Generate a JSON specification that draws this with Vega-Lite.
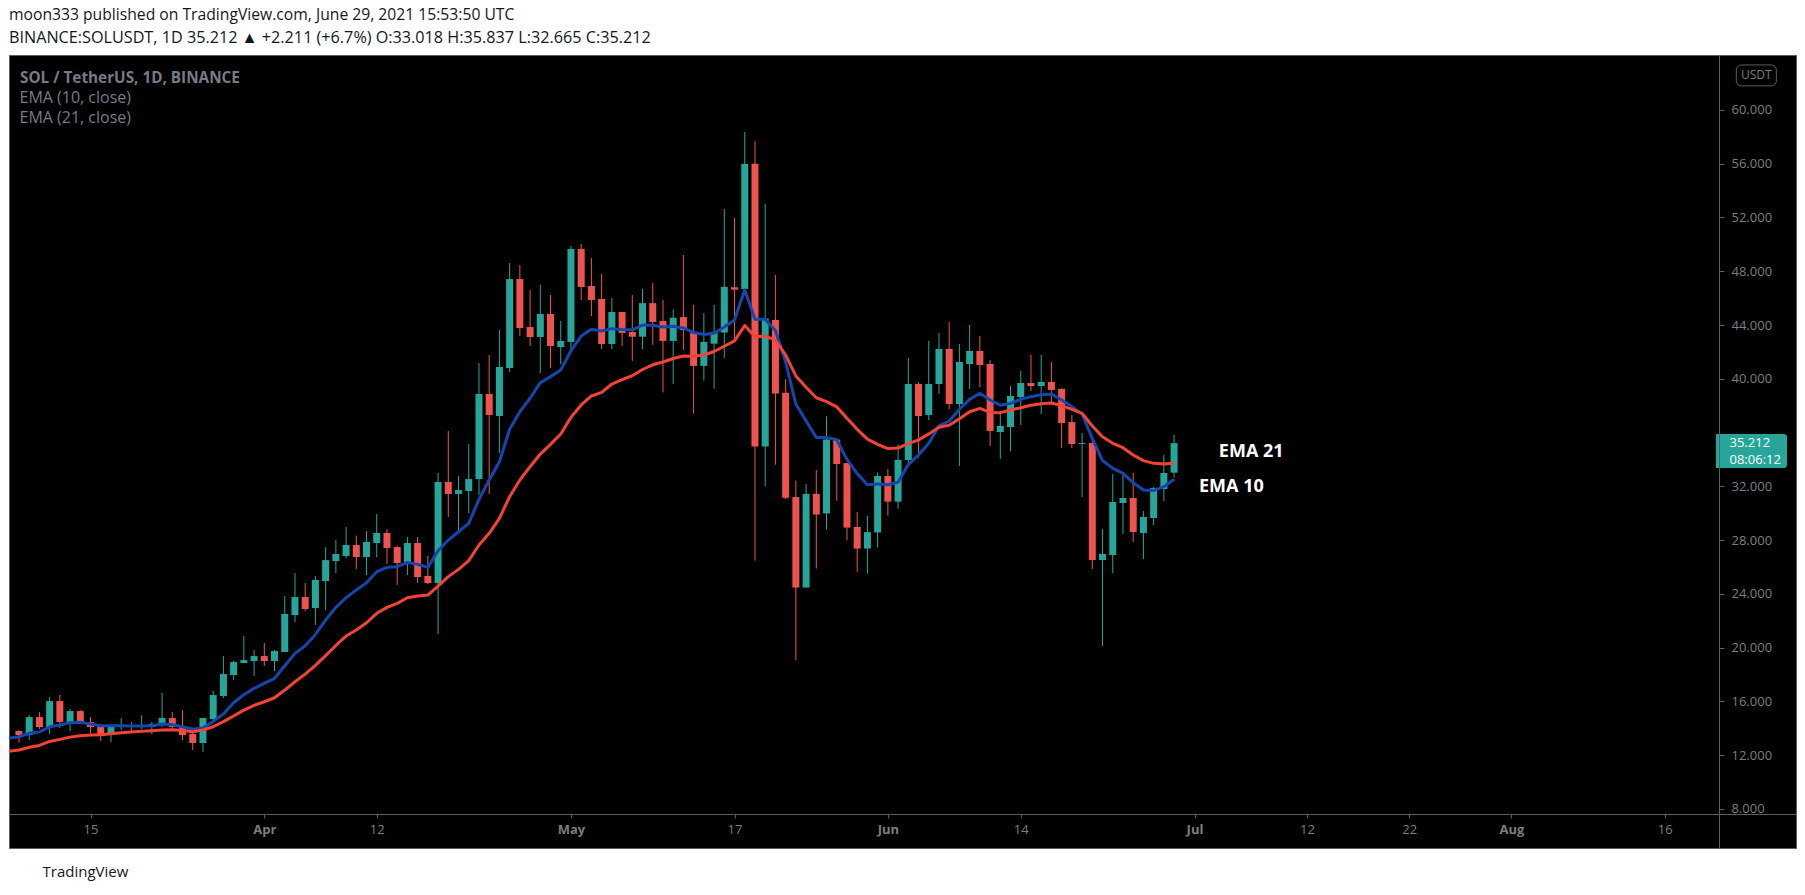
{
  "$schema": "https://vega.github.io/schema/vega-lite/v6.json",
  "width": 1787,
  "height": 793,
  "autosize": {"type": "none"},
  "padding": {"left": 9, "top": 55, "right": 9, "bottom": 47},
  "background": "#ffffff",
  "title": {
    "text": "moon333 published on TradingView.com, June 29, 2021 15:53:50 UTC",
    "subtitle": "BINANCE:SOLUSDT, 1D  35.212 ▲ +2.211 (+6.7%)  O:33.018  H:35.837  L:32.665  C:35.212",
    "anchor": "start",
    "frame": "group",
    "font": "Open Sans",
    "fontSize": 15.7,
    "fontWeight": "normal",
    "color": "#131722",
    "subtitleFont": "Open Sans",
    "subtitleFontSize": 16.2,
    "subtitleColor": "#131722",
    "subtitlePadding": 6,
    "offset": 8
  },
  "datasets": {
    "candles": [
      {"date": "2021-03-08", "open": 13.79, "high": 13.87, "low": 12.92, "close": 13.49},
      {"date": "2021-03-09", "open": 13.49, "high": 14.98, "low": 13.12, "close": 14.83},
      {"date": "2021-03-10", "open": 14.83, "high": 15.20, "low": 13.94, "close": 14.09},
      {"date": "2021-03-11", "open": 14.09, "high": 16.32, "low": 13.57, "close": 16.02},
      {"date": "2021-03-12", "open": 16.02, "high": 16.47, "low": 14.01, "close": 14.46},
      {"date": "2021-03-13", "open": 14.46, "high": 15.43, "low": 13.79, "close": 15.28},
      {"date": "2021-03-14", "open": 15.28, "high": 15.35, "low": 14.31, "close": 14.39},
      {"date": "2021-03-15", "open": 14.46, "high": 14.83, "low": 13.64, "close": 14.09},
      {"date": "2021-03-16", "open": 14.16, "high": 14.31, "low": 13.05, "close": 13.57},
      {"date": "2021-03-17", "open": 13.57, "high": 14.24, "low": 12.97, "close": 14.16},
      {"date": "2021-03-18", "open": 14.09, "high": 14.76, "low": 13.87, "close": 14.16},
      {"date": "2021-03-19", "open": 14.24, "high": 14.46, "low": 13.79, "close": 14.09},
      {"date": "2021-03-20", "open": 14.09, "high": 14.98, "low": 13.94, "close": 14.16},
      {"date": "2021-03-21", "open": 14.09, "high": 14.46, "low": 13.57, "close": 14.31},
      {"date": "2021-03-22", "open": 14.24, "high": 16.62, "low": 14.09, "close": 14.76},
      {"date": "2021-03-23", "open": 14.76, "high": 15.20, "low": 13.87, "close": 14.09},
      {"date": "2021-03-24", "open": 14.16, "high": 15.35, "low": 13.12, "close": 13.49},
      {"date": "2021-03-25", "open": 13.57, "high": 13.72, "low": 12.38, "close": 12.90},
      {"date": "2021-03-26", "open": 12.90, "high": 14.76, "low": 12.23, "close": 14.76},
      {"date": "2021-03-27", "open": 14.68, "high": 16.77, "low": 14.61, "close": 16.47},
      {"date": "2021-03-28", "open": 16.40, "high": 19.37, "low": 16.25, "close": 18.03},
      {"date": "2021-03-29", "open": 17.96, "high": 19.00, "low": 17.58, "close": 18.92},
      {"date": "2021-03-30", "open": 18.85, "high": 20.86, "low": 18.85, "close": 19.07},
      {"date": "2021-03-31", "open": 19.00, "high": 19.82, "low": 17.88, "close": 19.37},
      {"date": "2021-04-01", "open": 19.37, "high": 20.34, "low": 18.63, "close": 19.00},
      {"date": "2021-04-02", "open": 19.00, "high": 19.82, "low": 18.25, "close": 19.74},
      {"date": "2021-04-03", "open": 19.67, "high": 23.84, "low": 19.67, "close": 22.50},
      {"date": "2021-04-04", "open": 22.42, "high": 25.55, "low": 21.90, "close": 23.76},
      {"date": "2021-04-05", "open": 23.76, "high": 24.80, "low": 22.72, "close": 22.87},
      {"date": "2021-04-06", "open": 22.94, "high": 25.32, "low": 21.68, "close": 25.03},
      {"date": "2021-04-07", "open": 24.95, "high": 27.48, "low": 22.79, "close": 26.51},
      {"date": "2021-04-08", "open": 26.44, "high": 28.00, "low": 25.55, "close": 26.96},
      {"date": "2021-04-09", "open": 26.81, "high": 28.97, "low": 26.66, "close": 27.63},
      {"date": "2021-04-10", "open": 27.63, "high": 28.33, "low": 25.85, "close": 26.74},
      {"date": "2021-04-11", "open": 26.74, "high": 28.67, "low": 25.40, "close": 27.86},
      {"date": "2021-04-12", "open": 27.78, "high": 29.94, "low": 26.74, "close": 28.53},
      {"date": "2021-04-13", "open": 28.53, "high": 28.82, "low": 26.22, "close": 27.41},
      {"date": "2021-04-14", "open": 27.48, "high": 27.56, "low": 24.66, "close": 26.29},
      {"date": "2021-04-15", "open": 26.37, "high": 28.23, "low": 25.40, "close": 27.78},
      {"date": "2021-04-16", "open": 27.78, "high": 28.23, "low": 24.80, "close": 25.25},
      {"date": "2021-04-17", "open": 25.33, "high": 26.81, "low": 24.73, "close": 24.80},
      {"date": "2021-04-18", "open": 24.80, "high": 32.99, "low": 21.01, "close": 32.32},
      {"date": "2021-04-19", "open": 32.32, "high": 36.11, "low": 29.72, "close": 31.43},
      {"date": "2021-04-20", "open": 31.43, "high": 32.77, "low": 28.75, "close": 31.72},
      {"date": "2021-04-21", "open": 31.65, "high": 35.15, "low": 30.01, "close": 32.54},
      {"date": "2021-04-22", "open": 32.54, "high": 41.17, "low": 31.35, "close": 38.87},
      {"date": "2021-04-23", "open": 38.87, "high": 41.77, "low": 31.43, "close": 37.31},
      {"date": "2021-04-24", "open": 37.23, "high": 43.63, "low": 34.48, "close": 40.88},
      {"date": "2021-04-25", "open": 40.80, "high": 48.61, "low": 40.50, "close": 47.42},
      {"date": "2021-04-26", "open": 47.42, "high": 48.47, "low": 43.18, "close": 43.78},
      {"date": "2021-04-27", "open": 43.85, "high": 46.61, "low": 42.44, "close": 43.11},
      {"date": "2021-04-28", "open": 43.11, "high": 46.98, "low": 40.43, "close": 44.82},
      {"date": "2021-04-29", "open": 44.82, "high": 46.23, "low": 40.80, "close": 42.44},
      {"date": "2021-04-30", "open": 42.36, "high": 44.30, "low": 41.10, "close": 42.81},
      {"date": "2021-05-01", "open": 42.74, "high": 49.88, "low": 41.92, "close": 49.66},
      {"date": "2021-05-02", "open": 49.66, "high": 50.03, "low": 45.86, "close": 46.83},
      {"date": "2021-05-03", "open": 46.90, "high": 48.99, "low": 44.67, "close": 45.86},
      {"date": "2021-05-04", "open": 45.94, "high": 47.80, "low": 42.22, "close": 42.59},
      {"date": "2021-05-05", "open": 42.59, "high": 46.01, "low": 42.22, "close": 44.97},
      {"date": "2021-05-06", "open": 44.97, "high": 44.97, "low": 42.44, "close": 43.41},
      {"date": "2021-05-07", "open": 43.48, "high": 46.23, "low": 41.33, "close": 43.13},
      {"date": "2021-05-08", "open": 43.13, "high": 46.68, "low": 42.21, "close": 45.63},
      {"date": "2021-05-09", "open": 45.63, "high": 47.12, "low": 42.53, "close": 44.23},
      {"date": "2021-05-10", "open": 44.30, "high": 45.87, "low": 38.98, "close": 42.82},
      {"date": "2021-05-11", "open": 42.82, "high": 45.16, "low": 39.61, "close": 44.54},
      {"date": "2021-05-12", "open": 44.59, "high": 49.21, "low": 42.14, "close": 43.63},
      {"date": "2021-05-13", "open": 43.44, "high": 45.50, "low": 37.41, "close": 40.96},
      {"date": "2021-05-14", "open": 40.96, "high": 44.90, "low": 39.87, "close": 42.74},
      {"date": "2021-05-15", "open": 42.61, "high": 45.50, "low": 39.27, "close": 43.49},
      {"date": "2021-05-16", "open": 43.44, "high": 52.63, "low": 41.56, "close": 46.84},
      {"date": "2021-05-17", "open": 46.81, "high": 51.98, "low": 43.03, "close": 46.63},
      {"date": "2021-05-18", "open": 46.68, "high": 58.37, "low": 46.68, "close": 55.99},
      {"date": "2021-05-19", "open": 55.99, "high": 57.69, "low": 26.48, "close": 34.96},
      {"date": "2021-05-20", "open": 34.96, "high": 53.02, "low": 31.99, "close": 44.49},
      {"date": "2021-05-21", "open": 44.38, "high": 47.72, "low": 33.60, "close": 38.90},
      {"date": "2021-05-22", "open": 38.96, "high": 39.97, "low": 31.05, "close": 31.15},
      {"date": "2021-05-23", "open": 31.20, "high": 32.43, "low": 19.07, "close": 24.47},
      {"date": "2021-05-24", "open": 24.47, "high": 32.17, "low": 24.47, "close": 31.44},
      {"date": "2021-05-25", "open": 31.44, "high": 33.21, "low": 25.88, "close": 29.90},
      {"date": "2021-05-26", "open": 29.98, "high": 37.21, "low": 28.78, "close": 35.48},
      {"date": "2021-05-27", "open": 35.48, "high": 35.56, "low": 30.92, "close": 33.66},
      {"date": "2021-05-28", "open": 33.73, "high": 33.73, "low": 27.97, "close": 28.93},
      {"date": "2021-05-29", "open": 28.98, "high": 30.08, "low": 25.64, "close": 27.37},
      {"date": "2021-05-30", "open": 27.37, "high": 29.79, "low": 25.51, "close": 28.59},
      {"date": "2021-05-31", "open": 28.57, "high": 33.03, "low": 27.44, "close": 32.77},
      {"date": "2021-06-01", "open": 32.77, "high": 33.29, "low": 29.82, "close": 30.86},
      {"date": "2021-06-02", "open": 30.86, "high": 35.12, "low": 30.34, "close": 33.97},
      {"date": "2021-06-03", "open": 33.96, "high": 41.56, "low": 33.71, "close": 39.61},
      {"date": "2021-06-04", "open": 39.61, "high": 39.76, "low": 34.13, "close": 37.23},
      {"date": "2021-06-05", "open": 37.31, "high": 42.81, "low": 36.93, "close": 39.61},
      {"date": "2021-06-06", "open": 39.61, "high": 43.41, "low": 38.87, "close": 42.22},
      {"date": "2021-06-07", "open": 42.22, "high": 44.23, "low": 37.75, "close": 38.12},
      {"date": "2021-06-08", "open": 38.12, "high": 42.59, "low": 33.51, "close": 41.25},
      {"date": "2021-06-09", "open": 41.10, "high": 44.00, "low": 39.24, "close": 42.07},
      {"date": "2021-06-10", "open": 42.07, "high": 43.18, "low": 39.39, "close": 41.03},
      {"date": "2021-06-11", "open": 41.10, "high": 41.40, "low": 35.00, "close": 36.12},
      {"date": "2021-06-12", "open": 36.04, "high": 37.60, "low": 34.03, "close": 36.49},
      {"date": "2021-06-13", "open": 36.41, "high": 39.47, "low": 34.62, "close": 38.72},
      {"date": "2021-06-14", "open": 38.65, "high": 40.58, "low": 36.56, "close": 39.69},
      {"date": "2021-06-15", "open": 39.69, "high": 41.77, "low": 39.09, "close": 39.46},
      {"date": "2021-06-16", "open": 39.46, "high": 41.77, "low": 37.38, "close": 39.76},
      {"date": "2021-06-17", "open": 39.76, "high": 41.25, "low": 38.27, "close": 39.17},
      {"date": "2021-06-18", "open": 39.24, "high": 39.30, "low": 34.85, "close": 36.71},
      {"date": "2021-06-19", "open": 36.78, "high": 37.31, "low": 34.85, "close": 35.15},
      {"date": "2021-06-20", "open": 35.15, "high": 35.97, "low": 31.20, "close": 35.22},
      {"date": "2021-06-21", "open": 35.22, "high": 35.52, "low": 25.85, "close": 26.52},
      {"date": "2021-06-22", "open": 26.52, "high": 28.82, "low": 20.12, "close": 26.96},
      {"date": "2021-06-23", "open": 26.89, "high": 32.92, "low": 25.55, "close": 30.83},
      {"date": "2021-06-24", "open": 30.76, "high": 33.06, "low": 28.45, "close": 31.13},
      {"date": "2021-06-25", "open": 31.13, "high": 32.99, "low": 27.86, "close": 28.60},
      {"date": "2021-06-26", "open": 28.53, "high": 30.16, "low": 26.59, "close": 29.72},
      {"date": "2021-06-27", "open": 29.64, "high": 31.95, "low": 29.12, "close": 31.87},
      {"date": "2021-06-28", "open": 31.80, "high": 34.33, "low": 30.91, "close": 32.99},
      {"date": "2021-06-29", "open": 33.018, "high": 35.837, "low": 32.665, "close": 35.212}
    ],
    "ema": [
      {"date": "2021-03-07", "ema10": 13.25, "ema21": 12.28},
      {"date": "2021-03-08", "ema10": 13.37, "ema21": 12.38},
      {"date": "2021-03-09", "ema10": 13.62, "ema21": 12.58},
      {"date": "2021-03-10", "ema10": 13.72, "ema21": 12.72},
      {"date": "2021-03-11", "ema10": 14.11, "ema21": 13.02},
      {"date": "2021-03-12", "ema10": 14.24, "ema21": 13.17},
      {"date": "2021-03-13", "ema10": 14.41, "ema21": 13.34},
      {"date": "2021-03-14", "ema10": 14.44, "ema21": 13.44},
      {"date": "2021-03-15", "ema10": 14.31, "ema21": 13.49},
      {"date": "2021-03-16", "ema10": 14.19, "ema21": 13.52},
      {"date": "2021-03-17", "ema10": 14.19, "ema21": 13.59},
      {"date": "2021-03-18", "ema10": 14.19, "ema21": 13.67},
      {"date": "2021-03-19", "ema10": 14.16, "ema21": 13.72},
      {"date": "2021-03-20", "ema10": 14.16, "ema21": 13.77},
      {"date": "2021-03-21", "ema10": 14.19, "ema21": 13.82},
      {"date": "2021-03-22", "ema10": 14.31, "ema21": 13.87},
      {"date": "2021-03-23", "ema10": 14.26, "ema21": 13.89},
      {"date": "2021-03-24", "ema10": 14.11, "ema21": 13.84},
      {"date": "2021-03-25", "ema10": 13.92, "ema21": 13.74},
      {"date": "2021-03-26", "ema10": 14.01, "ema21": 13.87},
      {"date": "2021-03-27", "ema10": 14.51, "ema21": 14.11},
      {"date": "2021-03-28", "ema10": 15.06, "ema21": 14.49},
      {"date": "2021-03-29", "ema10": 15.90, "ema21": 14.91},
      {"date": "2021-03-30", "ema10": 16.49, "ema21": 15.35},
      {"date": "2021-03-31", "ema10": 16.97, "ema21": 15.70},
      {"date": "2021-04-01", "ema10": 17.34, "ema21": 15.97},
      {"date": "2021-04-02", "ema10": 17.71, "ema21": 16.27},
      {"date": "2021-04-03", "ema10": 18.65, "ema21": 16.84},
      {"date": "2021-04-04", "ema10": 19.57, "ema21": 17.46},
      {"date": "2021-04-05", "ema10": 20.14, "ema21": 18.03},
      {"date": "2021-04-06", "ema10": 20.98, "ema21": 18.68},
      {"date": "2021-04-07", "ema10": 22.05, "ema21": 19.40},
      {"date": "2021-04-08", "ema10": 22.99, "ema21": 20.16},
      {"date": "2021-04-09", "ema10": 23.72, "ema21": 20.86},
      {"date": "2021-04-10", "ema10": 24.29, "ema21": 21.31},
      {"date": "2021-04-11", "ema10": 24.83, "ema21": 21.85},
      {"date": "2021-04-12", "ema10": 25.65, "ema21": 22.55},
      {"date": "2021-04-13", "ema10": 25.97, "ema21": 22.99},
      {"date": "2021-04-14", "ema10": 26.02, "ema21": 23.29},
      {"date": "2021-04-15", "ema10": 26.34, "ema21": 23.71},
      {"date": "2021-04-16", "ema10": 26.19, "ema21": 23.84},
      {"date": "2021-04-17", "ema10": 25.97, "ema21": 23.91},
      {"date": "2021-04-18", "ema10": 27.21, "ema21": 24.58},
      {"date": "2021-04-19", "ema10": 28.00, "ema21": 25.28},
      {"date": "2021-04-20", "ema10": 28.62, "ema21": 25.82},
      {"date": "2021-04-21", "ema10": 29.24, "ema21": 26.47},
      {"date": "2021-04-22", "ema10": 31.03, "ema21": 27.63},
      {"date": "2021-04-23", "ema10": 32.47, "ema21": 28.50},
      {"date": "2021-04-24", "ema10": 33.83, "ema21": 29.62},
      {"date": "2021-04-25", "ema10": 36.24, "ema21": 31.23},
      {"date": "2021-04-26", "ema10": 37.55, "ema21": 32.47},
      {"date": "2021-04-27", "ema10": 38.55, "ema21": 33.46},
      {"date": "2021-04-28", "ema10": 39.71, "ema21": 34.40},
      {"date": "2021-04-29", "ema10": 40.16, "ema21": 35.12},
      {"date": "2021-04-30", "ema10": 40.65, "ema21": 35.89},
      {"date": "2021-05-01", "ema10": 42.09, "ema21": 37.13},
      {"date": "2021-05-02", "ema10": 43.18, "ema21": 38.05},
      {"date": "2021-05-03", "ema10": 43.68, "ema21": 38.72},
      {"date": "2021-05-04", "ema10": 43.55, "ema21": 38.99},
      {"date": "2021-05-05", "ema10": 43.73, "ema21": 39.61},
      {"date": "2021-05-06", "ema10": 43.66, "ema21": 39.94},
      {"date": "2021-05-07", "ema10": 43.64, "ema21": 40.23},
      {"date": "2021-05-08", "ema10": 44.00, "ema21": 40.69},
      {"date": "2021-05-09", "ema10": 43.99, "ema21": 41.04},
      {"date": "2021-05-10", "ema10": 43.86, "ema21": 41.25},
      {"date": "2021-05-11", "ema10": 43.91, "ema21": 41.51},
      {"date": "2021-05-12", "ema10": 43.78, "ema21": 41.69},
      {"date": "2021-05-13", "ema10": 43.44, "ema21": 41.67},
      {"date": "2021-05-14", "ema10": 43.29, "ema21": 41.77},
      {"date": "2021-05-15", "ema10": 43.39, "ema21": 42.03},
      {"date": "2021-05-16", "ema10": 43.86, "ema21": 42.42},
      {"date": "2021-05-17", "ema10": 44.38, "ema21": 42.82},
      {"date": "2021-05-18", "ema10": 46.63, "ema21": 43.96},
      {"date": "2021-05-19", "ema10": 44.43, "ema21": 43.13},
      {"date": "2021-05-20", "ema10": 44.43, "ema21": 43.18},
      {"date": "2021-05-21", "ema10": 43.60, "ema21": 42.87},
      {"date": "2021-05-22", "ema10": 41.25, "ema21": 41.77},
      {"date": "2021-05-23", "ema10": 38.12, "ema21": 40.21},
      {"date": "2021-05-24", "ema10": 36.87, "ema21": 39.37},
      {"date": "2021-05-25", "ema10": 35.64, "ema21": 38.59},
      {"date": "2021-05-26", "ema10": 35.64, "ema21": 38.30},
      {"date": "2021-05-27", "ema10": 35.46, "ema21": 37.91},
      {"date": "2021-05-28", "ema10": 34.00, "ema21": 37.07},
      {"date": "2021-05-29", "ema10": 32.95, "ema21": 36.24},
      {"date": "2021-05-30", "ema10": 32.12, "ema21": 35.51},
      {"date": "2021-05-31", "ema10": 32.17, "ema21": 35.12},
      {"date": "2021-06-01", "ema10": 32.12, "ema21": 34.81},
      {"date": "2021-06-02", "ema10": 32.30, "ema21": 34.85},
      {"date": "2021-06-03", "ema10": 33.62, "ema21": 35.18},
      {"date": "2021-06-04", "ema10": 34.33, "ema21": 35.45},
      {"date": "2021-06-05", "ema10": 35.20, "ema21": 35.90},
      {"date": "2021-06-06", "ema10": 36.49, "ema21": 36.39},
      {"date": "2021-06-07", "ema10": 36.86, "ema21": 36.54},
      {"date": "2021-06-08", "ema10": 37.73, "ema21": 37.03},
      {"date": "2021-06-09", "ema10": 38.47, "ema21": 37.55},
      {"date": "2021-06-10", "ema10": 38.92, "ema21": 37.80},
      {"date": "2021-06-11", "ema10": 38.42, "ema21": 37.50},
      {"date": "2021-06-12", "ema10": 38.03, "ema21": 37.48},
      {"date": "2021-06-13", "ema10": 38.17, "ema21": 37.68},
      {"date": "2021-06-14", "ema10": 38.47, "ema21": 37.85},
      {"date": "2021-06-15", "ema10": 38.67, "ema21": 38.03},
      {"date": "2021-06-16", "ema10": 38.82, "ema21": 38.15},
      {"date": "2021-06-17", "ema10": 38.87, "ema21": 38.20},
      {"date": "2021-06-18", "ema10": 38.42, "ema21": 38.00},
      {"date": "2021-06-19", "ema10": 37.93, "ema21": 37.73},
      {"date": "2021-06-20", "ema10": 37.38, "ema21": 37.43},
      {"date": "2021-06-21", "ema10": 35.57, "ema21": 36.49},
      {"date": "2021-06-22", "ema10": 33.91, "ema21": 35.69},
      {"date": "2021-06-23", "ema10": 33.34, "ema21": 35.20},
      {"date": "2021-06-24", "ema10": 32.97, "ema21": 34.87},
      {"date": "2021-06-25", "ema10": 32.27, "ema21": 34.33},
      {"date": "2021-06-26", "ema10": 31.73, "ema21": 33.91},
      {"date": "2021-06-27", "ema10": 31.68, "ema21": 33.71},
      {"date": "2021-06-28", "ema10": 31.97, "ema21": 33.66},
      {"date": "2021-06-29", "ema10": 32.52, "ema21": 33.71}
    ]
  },
  "layer": [
    {
      "data": {"name": "candles"},
      "mark": {"type": "rule", "strokeWidth": 1},
      "encoding": {
        "x": {
          "field": "date",
          "type": "temporal",
          "scale": {
            "type": "utc",
            "domain": [
              {"year": 2021, "month": 3, "date": 7, "hours": 12, "minutes": 20, "utc": true},
              {"year": 2021, "month": 8, "date": 28, "hours": 8, "minutes": 24, "utc": true}
            ]
          },
          "axis": {
            "values": [
              {"year": 2021, "month": 3, "date": 15, "utc": true},
              {"year": 2021, "month": 4, "date": 1, "utc": true},
              {"year": 2021, "month": 4, "date": 12, "utc": true},
              {"year": 2021, "month": 5, "date": 1, "utc": true},
              {"year": 2021, "month": 5, "date": 17, "utc": true},
              {"year": 2021, "month": 6, "date": 1, "utc": true},
              {"year": 2021, "month": 6, "date": 14, "utc": true},
              {"year": 2021, "month": 7, "date": 1, "utc": true},
              {"year": 2021, "month": 7, "date": 12, "utc": true},
              {"year": 2021, "month": 7, "date": 22, "utc": true},
              {"year": 2021, "month": 8, "date": 1, "utc": true},
              {"year": 2021, "month": 8, "date": 16, "utc": true}
            ],
            "labelExpr": "utcdate(datum.value) == 1 ? utcFormat(datum.value, '%b') : utcFormat(datum.value, '%-d')",
            "labelFontWeight": {"condition": {"test": "utcdate(datum.value) == 1", "value": "bold"}, "value": "normal"},
            "labelFont": "Open Sans",
            "labelFontSize": 13,
            "labelColor": "#7e7e7e",
            "labelPadding": 5,
            "labelFlush": false,
            "labelOverlap": false,
            "tickSize": 4,
            "tickColor": "#5d5d5d",
            "domainColor": "#5d5d5d",
            "grid": false,
            "offset": -34,
            "zindex": 1,
            "title": "TradingView",
            "titleX": 33,
            "titleY": 57,
            "titleAlign": "left",
            "titleBaseline": "middle",
            "titleFont": "Open Sans",
            "titleFontSize": 15,
            "titleFontWeight": "normal",
            "titleColor": "#131722"
          }
        },
        "y": {
          "field": "low",
          "type": "quantitative",
          "scale": {"domain": [5.09, 64.09], "nice": false, "zero": false},
          "axis": {
            "orient": "right",
            "offset": -77,
            "values": [8, 12, 16, 20, 24, 28, 32, 40, 44, 48, 52, 56, 60],
            "format": ".3f",
            "labelFont": "Open Sans",
            "labelFontSize": 13,
            "labelColor": "#7e7e7e",
            "labelPadding": 7,
            "labelFlush": false,
            "tickSize": 5,
            "tickColor": "#5d5d5d",
            "domainColor": "#5d5d5d",
            "grid": false,
            "zindex": 1,
            "title": null
          }
        },
        "y2": {"field": "high"},
        "color": {"condition": {"test": "datum.close >= datum.open", "value": "#26a69a"}, "value": "#ef5350"}
      }
    },
    {
      "data": {"name": "candles"},
      "mark": {"type": "bar", "size": 7},
      "encoding": {
        "x": {"field": "date", "type": "temporal"},
        "y": {"field": "open", "type": "quantitative", "title": null},
        "y2": {"field": "close"},
        "color": {"condition": {"test": "datum.close >= datum.open", "value": "#26a69a"}, "value": "#ef5350"}
      }
    },
    {
      "data": {"name": "ema"},
      "transform": [{"fold": ["ema10", "ema21"], "as": ["series", "value"]}],
      "mark": {"type": "line", "strokeWidth": 3, "clip": true, "strokeJoin": "round"},
      "encoding": {
        "x": {"field": "date", "type": "temporal"},
        "y": {"field": "value", "type": "quantitative", "title": null},
        "color": {
          "field": "series",
          "type": "nominal",
          "scale": {"domain": ["ema10", "ema21"], "range": ["#1447ad", "#f44336"]},
          "legend": {
            "orient": "none",
            "legendX": 11,
            "legendY": 16,
            "padding": 0,
            "title": "SOL / TetherUS, 1D, BINANCE",
            "titleFont": "Open Sans",
            "titleFontSize": 15.3,
            "titleFontWeight": "bold",
            "titleColor": "#787b86",
            "titlePadding": 3.5,
            "titleLimit": 500,
            "labelExpr": "datum.label == 'ema10' ? 'EMA (10, close)' : 'EMA (21, close)'",
            "labelFont": "Open Sans",
            "labelFontSize": 16,
            "labelColor": "#787b86",
            "labelOffset": -16.5,
            "labelLimit": 400,
            "symbolSize": 0,
            "symbolOpacity": 0,
            "symbolStrokeWidth": 0,
            "rowPadding": 4.5
          }
        }
      }
    },
    {
      "data": {"values": [
        {"date": "2021-08-21T00:00:00Z", "date2": "2021-08-27T23:02:00Z", "price": 35.90, "price2": 33.37}
      ]},
      "mark": {"type": "rect", "color": "#26a69a", "cornerRadiusTopRight": 3, "cornerRadiusBottomRight": 3},
      "encoding": {
        "x": {"field": "date", "type": "temporal"},
        "x2": {"field": "date2"},
        "y": {"field": "price", "type": "quantitative", "title": null},
        "y2": {"field": "price2"}
      }
    },
    {
      "data": {"values": [
        {"date": "2021-08-23T00:00:00Z", "date2": "2021-08-26T22:00:00Z", "price": 63.35, "price2": 61.79}
      ]},
      "mark": {"type": "rect", "fill": "#000000", "stroke": "#5d5d5d", "strokeWidth": 1, "cornerRadius": 5},
      "encoding": {
        "x": {"field": "date", "type": "temporal"},
        "x2": {"field": "date2"},
        "y": {"field": "price", "type": "quantitative", "title": null},
        "y2": {"field": "price2"}
      }
    },
    {
      "data": {"values": [
        {"date": "2021-08-24T23:00:00Z", "price": 62.57, "label": "USDT"}
      ]},
      "mark": {"type": "text", "font": "Open Sans", "fontSize": 12, "color": "#7e7e7e", "align": "center", "baseline": "middle"},
      "encoding": {
        "x": {"field": "date", "type": "temporal"},
        "y": {"field": "price", "type": "quantitative", "title": null},
        "text": {"field": "label"}
      }
    },
    {
      "data": {"values": [
        {"date": "2021-08-22T08:00:00Z", "price": 35.212, "label": "35.212", "weight": "bold"},
        {"date": "2021-08-22T08:00:00Z", "price": 33.96, "label": "08:06:12", "weight": "normal"}
      ]},
      "mark": {"type": "text", "font": "Open Sans", "fontSize": 13, "color": "#ffffff", "align": "left", "baseline": "middle"},
      "encoding": {
        "x": {"field": "date", "type": "temporal"},
        "y": {"field": "price", "type": "quantitative", "title": null},
        "text": {"field": "label"},
        "fontWeight": {"condition": {"test": "datum.weight == 'bold'", "value": "bold"}, "value": "normal"}
      }
    },
    {
      "data": {"values": [
        {"date": "2021-07-03T09:07:00Z", "price": 34.56, "label": "EMA 21"},
        {"date": "2021-07-01T10:34:00Z", "price": 31.95, "label": "EMA 10"}
      ]},
      "mark": {"type": "text", "font": "Open Sans", "fontSize": 18, "fontWeight": "bold", "color": "#ffffff", "align": "left", "baseline": "middle"},
      "encoding": {
        "x": {"field": "date", "type": "temporal"},
        "y": {"field": "price", "type": "quantitative", "title": null},
        "text": {"field": "label"}
      }
    }
  ],
  "config": {
    "font": "Open Sans",
    "view": {"fill": "#000000", "stroke": "#5d5d5d", "strokeWidth": 1}
  }
}
